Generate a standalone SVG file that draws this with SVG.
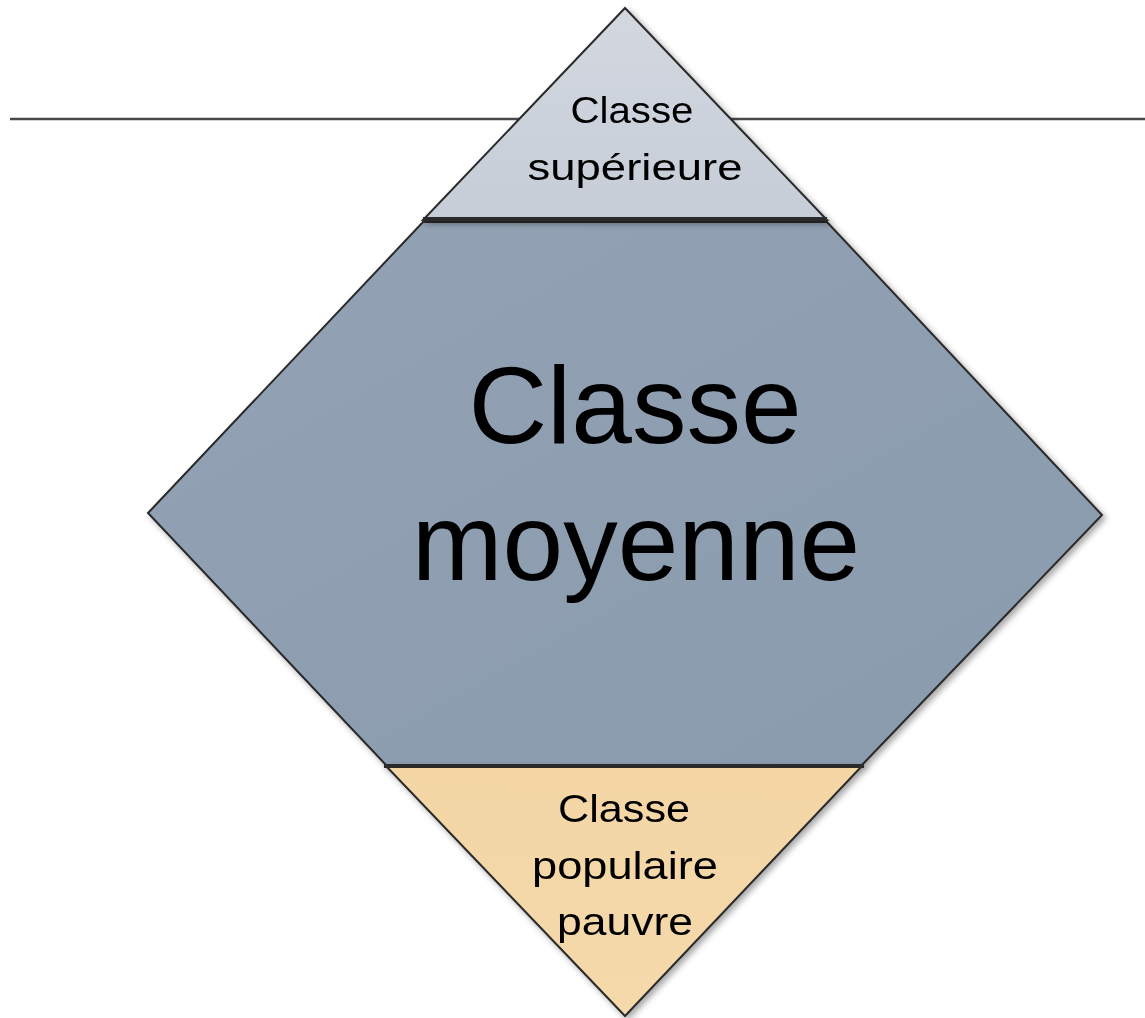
<svg xmlns="http://www.w3.org/2000/svg" width="1145" height="1018" viewBox="0 0 1145 1018">
  <style>
    .shape { stroke: #2a2a2a; stroke-width: 2; stroke-linejoin: miter; }
    .lbl { font-family: "Liberation Sans", Arial, sans-serif; fill: #000; text-anchor: middle; }
  </style>
  <defs>
    <filter id="sh" x="-10%" y="-10%" width="125%" height="125%">
      <feDropShadow dx="3" dy="3" stdDeviation="3" flood-color="#000" flood-opacity="0.35"/>
    </filter>
    <linearGradient id="gTop" x1="0" y1="0" x2="0" y2="1">
      <stop offset="0" stop-color="#d3d8e0"/>
      <stop offset="1" stop-color="#c6cdd7"/>
    </linearGradient>
    <linearGradient id="gMid" x1="0" y1="0" x2="1" y2="1">
      <stop offset="0" stop-color="#93a2b4"/>
      <stop offset="1" stop-color="#8a9bae"/>
    </linearGradient>
    <linearGradient id="gBot" x1="0" y1="0" x2="0" y2="1">
      <stop offset="0" stop-color="#f4d6a5"/>
      <stop offset="1" stop-color="#f5d9ab"/>
    </linearGradient>
  </defs>
  <rect width="1145" height="1018" fill="#ffffff"/>
  <g id="connectors">
    <line x1="10" y1="119" x2="1145" y2="119" stroke="#4a4a4a" stroke-width="2.5"/>
  </g>
  <g id="middle" filter="url(#sh)">
    <polygon class="shape" points="423,222 827,222 1102,515 862,765 386,765 148,513" fill="url(#gMid)"/>
    <text class="lbl" x="635" y="443" font-size="109">Classe</text>
    <text class="lbl" x="636" y="580" font-size="109">moyenne</text>
  </g>
  <g id="top" filter="url(#sh)">
    <polygon class="shape" points="625,8 827,220 423,220" fill="url(#gTop)"/>
    <line x1="423" y1="219" x2="827" y2="219" stroke="#2a2a2a" stroke-width="4"/>
    <text class="lbl" x="632" y="123" font-size="37" textLength="123" lengthAdjust="spacingAndGlyphs">Classe</text>
    <text class="lbl" x="635" y="180" font-size="37" textLength="215" lengthAdjust="spacingAndGlyphs">supérieure</text>
  </g>
  <g id="bottom" filter="url(#sh)">
    <polygon class="shape" points="386,766 862,766 625,1016" fill="url(#gBot)"/>
    <line x1="384" y1="766" x2="864" y2="766" stroke="#2a2a2a" stroke-width="4"/>
    <text class="lbl" x="624" y="822" font-size="39" textLength="132" lengthAdjust="spacingAndGlyphs">Classe</text>
    <text class="lbl" x="625" y="879" font-size="39" textLength="186" lengthAdjust="spacingAndGlyphs">populaire</text>
    <text class="lbl" x="625" y="935" font-size="39" textLength="136" lengthAdjust="spacingAndGlyphs">pauvre</text>
  </g>
</svg>
